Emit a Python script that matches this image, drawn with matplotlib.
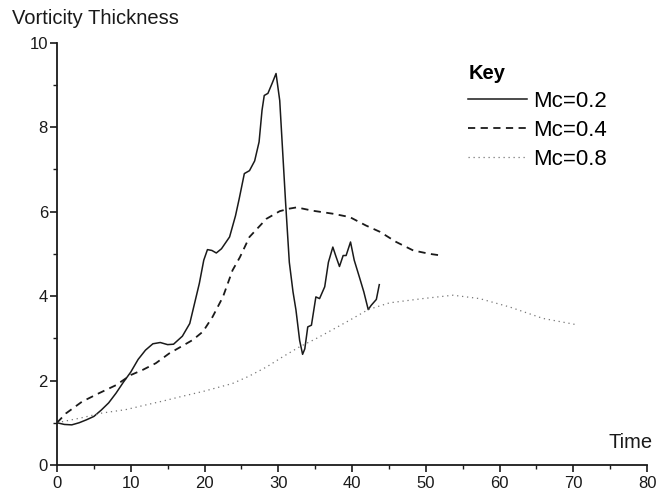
import matplotlib
matplotlib.use('Agg')
import matplotlib.pyplot as plt
from matplotlib.ticker import MultipleLocator

plt.rcParams['font.family'] = ['Liberation Sans', 'DejaVu Sans']

# Mc=0.2 (solid)
t_02 = [0, 1, 2, 3, 4, 5, 6, 7, 8, 9, 10, 11, 12, 13, 14, 15, 15.8, 17, 18,
        19.3, 19.9, 20.4, 21.0, 21.6, 22.3, 23.4, 24.2, 24.7, 25.4, 26.1, 26.8,
        27.4, 27.8, 28.1, 28.6, 29.2, 29.7, 30.2, 31.0, 31.5, 32.0, 32.4, 32.9,
        33.3, 33.6, 34.0, 34.5, 35.1, 35.6, 36.3, 36.8, 37.4, 37.8, 38.3, 38.8,
        39.2, 39.8, 40.3, 41.0, 41.6, 42.2, 42.6, 43.3, 43.7]
v_02 = [1.0, 0.96, 0.95, 1.0, 1.07, 1.15, 1.3, 1.47, 1.7, 1.96, 2.2, 2.5, 2.72,
        2.87, 2.9, 2.85, 2.86, 3.05, 3.35, 4.3, 4.85, 5.1, 5.08, 5.02, 5.12,
        5.4, 5.9, 6.3, 6.9, 6.97, 7.2, 7.65, 8.4, 8.75, 8.8, 9.05, 9.27, 8.63,
        6.2, 4.8, 4.1, 3.67, 2.95, 2.62, 2.75, 3.27, 3.31, 3.98, 3.94, 4.22,
        4.8, 5.16, 4.95, 4.7, 4.96, 4.96, 5.28, 4.85, 4.45, 4.1, 3.68, 3.78,
        3.92, 4.27]

# Mc=0.4 (dashed)
t_04 = [0, 1.2, 3.4, 5.7, 8.0, 10, 11.6, 13.4, 15.2, 16.8, 18.4, 19.8, 21.1,
        22.5, 23.8, 24.8, 26.1, 28.4, 30.2, 31.5, 32.5, 34.7, 37.4, 39.7, 41.9,
        43.8, 46.0, 48.3, 50.5, 52.1]
v_04 = [1.0, 1.22, 1.5, 1.7, 1.89, 2.13, 2.25, 2.41, 2.64, 2.8, 2.96, 3.16,
        3.51, 3.98, 4.61, 4.92, 5.4, 5.83, 6.01, 6.07, 6.1, 6.02, 5.95, 5.87,
        5.67, 5.52, 5.28, 5.08, 5.0, 4.96]

# Mc=0.8 (dotted)
t_08 = [0, 3.4, 6.1, 9.3, 12.0, 14.5, 16.6, 20, 23.8, 26, 28.4, 30.5, 32.9,
        35, 37.0, 39.7, 42.2, 45.1, 49.6, 53.7, 57.3, 61.4, 65.9, 70.2]
v_08 = [1.0, 1.12, 1.23, 1.31, 1.42, 1.52, 1.61, 1.75, 1.93, 2.1, 2.32, 2.55,
        2.8, 2.98, 3.17, 3.43, 3.68, 3.84, 3.94, 4.02, 3.94, 3.74, 3.47, 3.33]

fig = plt.figure(figsize=(6.59, 4.98), dpi=100)
ax = fig.add_axes([0.0865, 0.0663, 0.8953, 0.848])

ax.plot(t_02, v_02, color='#1a1a1a', lw=1.1, label='Mc=0.2')
ax.plot(t_04, v_04, color='#1a1a1a', lw=1.3, ls=(0, (4, 3)), label='Mc=0.4')
ax.plot(t_08, v_08, color='#777777', lw=0.9, ls=(0, (1, 3)), label='Mc=0.8')

ax.set_xlim(0, 80)
ax.set_ylim(0, 10)
ax.xaxis.set_major_locator(MultipleLocator(10))
ax.xaxis.set_minor_locator(MultipleLocator(5))
ax.yaxis.set_major_locator(MultipleLocator(2))
ax.yaxis.set_minor_locator(MultipleLocator(1))

for s in ['top', 'right']:
    ax.spines[s].set_visible(False)
for s in ['left', 'bottom']:
    ax.spines[s].set_linewidth(1.3)
    ax.spines[s].set_color('#1a1a1a')

ax.tick_params(which='major', length=5, width=1.2, labelsize=12, pad=3,
               color='#1a1a1a', labelcolor='#1a1a1a')
ax.tick_params(axis='y', which='major', pad=1.5)
ax.tick_params(which='minor', length=3, width=1.0, color='#1a1a1a')

ax.text(1.01, 0.054, 'Time', transform=ax.transAxes, ha='right', va='center',
        fontsize=14.5, color='#1a1a1a')
fig.text(12 / 659, 1 - 18 / 498, 'Vorticity Thickness', ha='left', va='center',
         fontsize=14.5, color='#1a1a1a')

leg = ax.legend(loc='upper left', bbox_to_anchor=(0.697, 0.95), frameon=False,
                title='Key', title_fontproperties={'weight': 'bold', 'size': 14.5},
                fontsize=16, handlelength=2.65, handletextpad=0.27,
                labelspacing=0.36, borderpad=0, borderaxespad=0,
                alignment='left')

fig.savefig('out.png', dpi=100)
